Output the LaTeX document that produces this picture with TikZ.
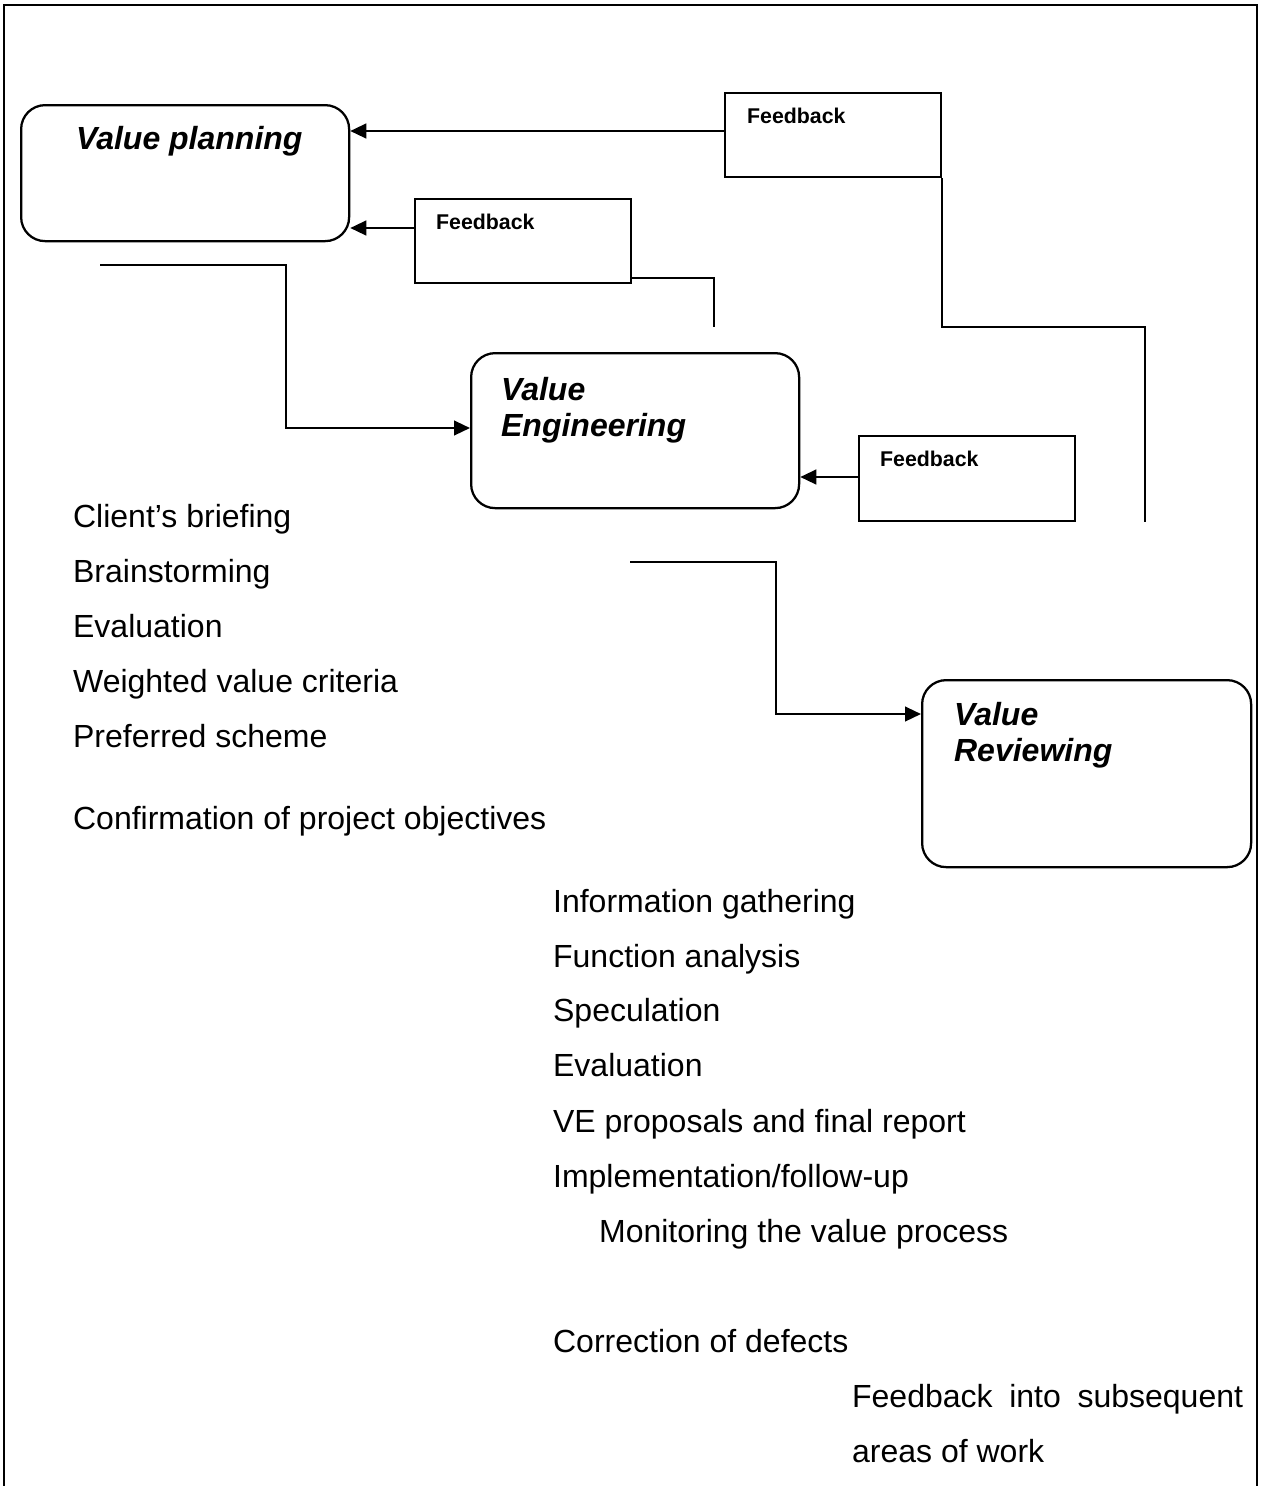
\documentclass[tikz,border=0pt]{standalone}
\usepackage{fontspec}
\setmainfont{Liberation Sans}
\usetikzlibrary{arrows.meta}
\begin{document}
\begin{tikzpicture}[x=0.375pt,y=-0.375pt,
  line width=0.85pt,
  stage/.style={draw, rounded corners=9pt, inner sep=0pt, anchor=north west},
  fbbox/.style={draw, inner sep=0pt, anchor=north west,
    minimum width={216*0.375pt}, minimum height={84*0.375pt}},
  fblabel/.style={anchor=base west, inner sep=0pt,
    font=\fontsize{8}{9.6}\selectfont\bfseries},
  head/.style={anchor=base west, inner sep=0pt, align=left,
    font=\fontsize{12}{13.5}\selectfont\bfseries\itshape},
  item/.style={anchor=base west, inner sep=0pt,
    font=\fontsize{12}{14}\selectfont},
  arr/.style={-{Triangle[length=6pt,width=5.5pt]}}
]
\useasboundingbox (0,0) rectangle (1261,1486);

% open frame (no bottom edge)
\draw (4,1490) -- (4,5) -- (1257,5) -- (1257,1490);

% stage boxes
\node[stage, minimum width={328*0.375pt}, minimum height={136*0.375pt}] (vp) at (20,104) {};
\node[stage, minimum width={328*0.375pt}, minimum height={155*0.375pt}] (ve) at (470,352) {};
\node[stage, minimum width={329*0.375pt}, minimum height={187*0.375pt}] (vr) at (921,679) {};

% stage titles (anchored on the baseline of their last line)
\node[head] (vpt) at (75,149) {Value planning};
\node[head] (vet) at (500,436) {Value\\Engineering};
\node[head] (vrt) at (953,761) {Value\\Reviewing};

% feedback boxes
\node[fbbox] (fb1) at (724,92) {};
\node[fbbox] (fb2) at (414,198) {};
\node[fbbox, minimum height={85*0.375pt}] (fb3) at (858,435) {};
\node[fblabel] (fb1t) at (746,123) {Feedback};
\node[fblabel] (fb2t) at (435,229) {Feedback};
\node[fblabel] (fb3t) at (879,466) {Feedback};

% feedback arrows
\draw[arr] (fb1.west |- 0,131) -- (vp.east |- 0,131);
\draw[arr] (fb2.west |- 0,228) -- (vp.east |- 0,228);
\draw[arr] (fb3.west |- 0,477) -- (ve.east |- 0,477);

% feedback return lines
\coordinate (r2) at (714,327);
\draw (fb2.east |- 0,278) -- (r2 |- 0,278) -- (r2);
\coordinate (r1b) at (1145,327);
\coordinate (r1c) at (1145,522);
\draw (fb1.south east) -- (fb1.south east |- r1b) -- (r1b) -- (r1c);

% forward flow
\coordinate (s1) at (100,265);
\coordinate (k1) at (286,265);
\draw[arr] (s1) -- (k1) -- (k1 |- 0,428) -- (ve.west |- 0,428);
\coordinate (s2) at (630,562);
\coordinate (k2) at (776,562);
\draw[arr] (s2) -- (k2) -- (k2 |- 0,714) -- (vr.west |- 0,714);

% value planning activities
\node[item] (a1) at (72,527) {Client’s briefing};
\node[item] (a2) at (72,582) {Brainstorming};
\node[item] (a3) at (72,637) {Evaluation};
\node[item] (a4) at (72,692) {Weighted value criteria};
\node[item] (a5) at (72,747) {Preferred scheme};
\node[item] (a6) at (72,829) {Confirmation of project objectives};

% value engineering activities
\node[item] (b1) at (552,912) {Information gathering};
\node[item] (b2) at (552,967) {Function analysis};
\node[item] (b3) at (552,1021) {Speculation};
\node[item] (b4) at (552,1076) {Evaluation};
\node[item] (b5) at (552,1132) {VE proposals and final report};
\node[item] (b6) at (552,1187) {Implementation/follow-up};
\node[item] (b7) at (598,1242) {Monitoring the value process};

% value reviewing activities
\node[item] (c1) at (552,1352) {Correction of defects};
\node[item] (c2) at (851,1407) {\makebox[146.6pt][s]{Feedback\hfill into\hfill subsequent}};
\node[item] (c3) at (851,1462) {areas of work};
\end{tikzpicture}
\end{document}
